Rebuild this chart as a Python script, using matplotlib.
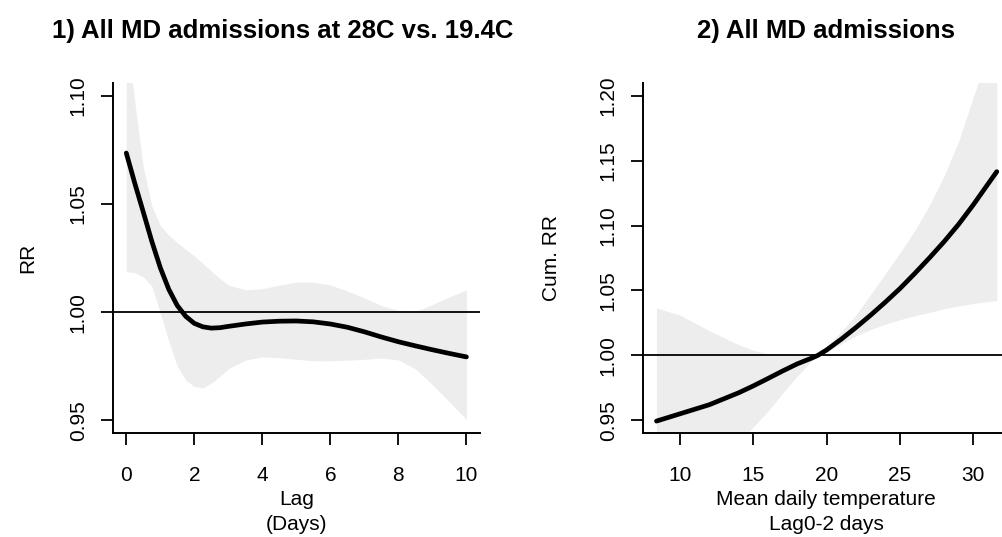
import matplotlib
matplotlib.use("Agg")
import matplotlib.pyplot as plt

plt.rcParams["font.family"] = ["Liberation Sans", "DejaVu Sans"]

# panel 1: lag-response at 28C vs. 19.4C
lag = [0, 0.25, 0.5, 0.75, 1.0, 1.25, 1.5, 1.75, 2.0, 2.25, 2.5, 2.75, 3.0,
       3.5, 4.0, 4.5, 5.0, 5.5, 6.0, 6.5, 7.0, 7.5, 8.0, 8.5, 9.0, 9.5, 10.0]
rr_lag = [1.0735, 1.0595, 1.0462, 1.0327, 1.0205, 1.0105, 1.0030, 0.9980,
          0.9948, 0.9932, 0.9926, 0.9928, 0.9934, 0.9945, 0.9954, 0.9958,
          0.9959, 0.9955, 0.9945, 0.9930, 0.9909, 0.9885, 0.9863, 0.9844,
          0.9826, 0.9809, 0.9793]
rr_lag_hi = [1.1300, 1.0970, 1.0670, 1.0490, 1.0400, 1.0355, 1.0320, 1.0290,
             1.0260, 1.0225, 1.0190, 1.0155, 1.0125, 1.0103, 1.0108, 1.0125,
             1.0138, 1.0138, 1.0125, 1.0098, 1.0065, 1.0030, 1.0008, 1.0003,
             1.0035, 1.0070, 1.0103]
rr_lag_lo = [1.0187, 1.0182, 1.0162, 1.0120, 0.9995, 0.9865, 0.9750, 0.9685,
             0.9656, 0.9650, 0.9672, 0.9703, 0.9738, 0.9778, 0.9793, 0.9789,
             0.9782, 0.9775, 0.9775, 0.9778, 0.9782, 0.9788, 0.9779, 0.9738,
             0.9665, 0.9585, 0.9504]

# panel 2: cumulative exposure-response, lag 0-2
temp = [8.4, 10, 12, 14, 15, 16, 17, 18, 19, 19.4, 20, 21, 22, 23, 24, 25,
        26, 27, 28, 29, 30, 31, 31.6]
rr_cum = [0.9494, 0.9550, 0.9620, 0.9712, 0.9765, 0.9822, 0.9880, 0.9935,
          0.9980, 1.0000, 1.0042, 1.0125, 1.0215, 1.0310, 1.0410, 1.0515,
          1.0630, 1.0750, 1.0875, 1.1010, 1.1160, 1.1320, 1.1415]
rr_cum_hi = [1.0365, 1.0310, 1.0190, 1.0082, 1.0040, 1.0012, 1.0005, 1.0002,
             1.0001, 1.0000, 1.0065, 1.0185, 1.0310, 1.0470, 1.0630, 1.0790,
             1.0960, 1.1155, 1.1380, 1.1650, 1.1990, 1.2320, 1.2500]
rr_cum_lo = [0.8750, 0.8900, 0.9120, 0.9325, 0.9450, 0.9570, 0.9710, 0.9840,
             0.9960, 1.0000, 1.0025, 1.0090, 1.0150, 1.0200, 1.0240, 1.0275,
             1.0305, 1.0330, 1.0360, 1.0380, 1.0400, 1.0415, 1.0422]

lag_ticks = [0, 2, 4, 6, 8, 10]
lag_yticks = [0.95, 1.00, 1.05, 1.10]
temp_ticks = [10, 15, 20, 25, 30]
cum_yticks = [0.95, 1.00, 1.05, 1.10, 1.15, 1.20]

W, H = 1003, 537
fig = plt.figure(figsize=(W / 100, H / 100), dpi=100)
ax1 = fig.add_axes([112.7 / W, 1 - 433.3 / H, 367.3 / W, 350.6 / H])
ax2 = fig.add_axes([642.7 / W, 1 - 433.3 / H, 367.3 / W, 350.6 / H])

band = "#ededed"


def style(ax, xt, yt, ylab_x):
    for s in ("top", "right"):
        ax.spines[s].set_visible(False)
    for s in ("left", "bottom"):
        ax.spines[s].set_linewidth(1.4)
    ax.set_xticks(xt)
    ax.set_yticks(yt)
    ax.set_yticklabels(["%.2f" % v for v in yt], rotation=90, va="center")
    ax.tick_params(axis="both", direction="out", length=8.5, width=1.3,
                   labelsize=15)
    ax.tick_params(axis="x", pad=15)
    ax.tick_params(axis="y", pad=9.5)
    ax.yaxis.set_label_coords(ylab_x, 0.48)
    ax.xaxis.set_label_coords(0.5, -0.163)


ax1.fill_between(lag, rr_lag_lo, rr_lag_hi, color=band, lw=0)
ax1.axhline(1.0, color="black", lw=1.3)
ax1.plot(lag, rr_lag, color="black", lw=3.4, solid_capstyle="round")
ax1.set_xlim(-0.4, 10.4)
ax1.set_ylim(0.944, 1.106)
style(ax1, lag_ticks, lag_yticks, -0.2306)
ax1.set_xlabel("Lag\n(Days)", fontsize=15, linespacing=1.35)
ax1.set_ylabel("RR", fontsize=15, va="center")
ax1.set_title("1) All MD admissions at 28C vs. 19.4C", fontsize=18.5,
              fontweight="bold", pad=32, x=0.462)

ax2.fill_between(temp, rr_cum_lo, rr_cum_hi, color=band, lw=0)
ax2.axhline(1.0, color="black", lw=1.3)
ax2.plot(temp, rr_cum, color="black", lw=3.4, solid_capstyle="round")
ax2.set_xlim(7.46, 32.5)
ax2.set_ylim(0.94, 1.21)
style(ax2, temp_ticks, cum_yticks, -0.2478)
ax2.set_xlabel("Mean daily temperature\nLag0-2 days", fontsize=15,
               linespacing=1.35)
ax2.set_ylabel("Cum. RR", fontsize=15, va="center")
ax2.set_title("2) All MD admissions", fontsize=18.5, fontweight="bold",
              pad=32)

fig.savefig("out.png", dpi=100)
